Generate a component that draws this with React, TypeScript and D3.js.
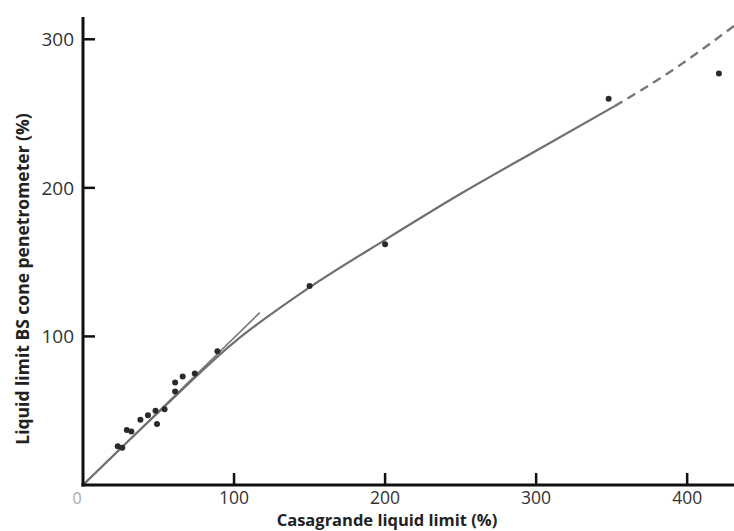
import React from "react";
import * as d3 from "d3";

// measured points: Casagrande LL (%) vs BS cone LL (%)
const pointsX = [23, 26, 29, 32, 38, 43, 48, 49, 54, 61, 61, 66, 74, 89, 150, 200, 348, 421];
const pointsY = [26, 25, 37, 36, 44, 47, 50, 41, 51, 63, 69, 73, 75, 90, 134, 162, 260, 277];

// fitted curve (solid part) and its extrapolation (dashed)
const curveX = [0, 50, 100, 150, 200, 250, 300, 352];
const curveY = [0, 49, 96, 133, 165, 196, 225, 255];
const dashX = [352, 390, 431];
const dashY = [255, 279, 309];

// short 1:1 line near origin
const equalX = [0, 117];
const equalY = [0, 116];

const xTicks = [100, 200, 300, 400];
const yTicks = [100, 200, 300];

const W = 734;
const H = 531;
const font = "'Open Sans', sans-serif";

export default function App() {
  const x = d3.scaleLinear().domain([0, 431]).range([83, 734]);
  const y = d3.scaleLinear().domain([0, 315]).range([485, 17]);

  const line = d3
    .line<[number, number]>()
    .x((d) => x(d[0]))
    .y((d) => y(d[1]))
    .curve(d3.curveMonotoneX);

  const zip = (a: number[], b: number[]) => a.map((v, i) => [v, b[i]] as [number, number]);

  return (
    <svg
      width={W}
      height={H}
      style={{ position: "absolute", left: 0, top: 0, background: "#fff" }}
    >
      {/* lines */}
      <path d={line(zip(equalX, equalY)) || ""} fill="none" stroke="#777" strokeWidth={1.6} />
      <path d={line(zip(curveX, curveY)) || ""} fill="none" stroke="#6f6f6f" strokeWidth={2.2} />
      <path
        d={line(zip(dashX, dashY)) || ""}
        fill="none"
        stroke="#777"
        strokeWidth={2.4}
        strokeDasharray="9,6"
      />

      {/* points */}
      {pointsX.map((px, i) => (
        <circle key={i} cx={x(px)} cy={y(pointsY[i])} r={3} fill="#2a2a2a" />
      ))}

      {/* axes */}
      <line x1={x(0)} x2={x(0)} y1={y(0) + 1.5} y2={y(315)} stroke="#111" strokeWidth={3} />
      <line x1={x(0) - 1.5} x2={W} y1={y(0)} y2={y(0)} stroke="#111" strokeWidth={3} />

      {yTicks.map((t) => (
        <g key={"y" + t}>
          <line x1={x(0)} x2={x(0) + 12} y1={y(t)} y2={y(t)} stroke="#111" strokeWidth={2.5} />
          <text
            x={x(0) - 9}
            y={y(t)}
            dy="0.35em"
            textAnchor="end"
            fontFamily={font}
            fontSize={19}
            fill="#333"
          >
            {t}
          </text>
        </g>
      ))}

      {xTicks.map((t) => (
        <g key={"x" + t}>
          <line x1={x(t)} x2={x(t)} y1={y(0)} y2={y(0) - 12} stroke="#111" strokeWidth={2.5} />
          <text
            x={x(t)}
            y={504}
            textAnchor="middle"
            fontFamily={font}
            fontSize={17.5}
            fill="#333"
          >
            {t}
          </text>
        </g>
      ))}
      <text
        x={x(0) - 6}
        y={y(0) + 13}
        dy="0.35em"
        textAnchor="middle"
        fontFamily={font}
        fontSize={16}
        fill="#aaa"
      >
        0
      </text>

      {/* axis titles */}
      <text
        x={387}
        y={526}
        textAnchor="middle"
        fontFamily={font}
        fontSize={16.5}
        fontWeight="bold"
        fill="#222"
      >
        Casagrande liquid limit (%)
      </text>
      <text
        transform="translate(23,279) rotate(-90)"
        dy="0.35em"
        textAnchor="middle"
        fontFamily={font}
        fontSize={17.5}
        fontWeight="bold"
        fill="#222"
      >
        Liquid limit BS cone penetrometer (%)
      </text>
    </svg>
  );
}
